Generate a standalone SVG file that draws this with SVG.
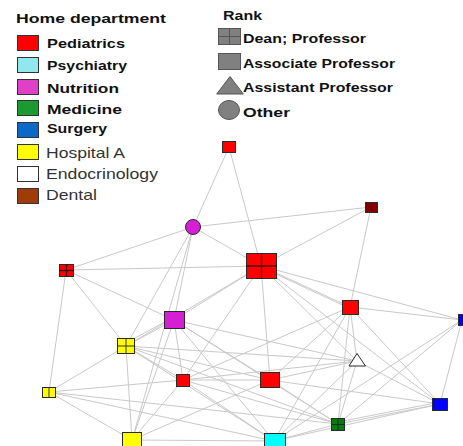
<svg xmlns="http://www.w3.org/2000/svg" width="463" height="446" viewBox="0 0 463 446">
<style>
.e{stroke:#c9c9c9;stroke-width:1;fill:none}
.n{stroke:#2a2a2a;stroke-width:1}
.g{stroke:#3a0000;stroke-width:1.3}
.hb{font-family:"Liberation Sans",Arial,sans-serif;font-weight:bold;font-size:13.5px;fill:#111}
.hr{font-family:"Liberation Sans",Arial,sans-serif;font-size:15px;fill:#333}
.sw{stroke:#333;stroke-width:1}
.rk{fill:#808080;stroke:#555;stroke-width:1}
</style>
<rect width="463" height="446" fill="#fff"/>
<g id="legend-department">
<text class="hb" x="16" y="23" textLength="150" lengthAdjust="spacingAndGlyphs">Home department</text>
<rect class="sw" x="17.5" y="35.5" width="21" height="15" fill="#ff0000"/>
<text class="hb" x="47" y="48" textLength="78" lengthAdjust="spacingAndGlyphs">Pediatrics</text>
<rect class="sw" x="17.5" y="57.5" width="21" height="15" fill="#90e8ee"/>
<text class="hb" x="47" y="70" textLength="80" lengthAdjust="spacingAndGlyphs">Psychiatry</text>
<rect class="sw" x="17.5" y="79.5" width="21" height="15" fill="#e040c8"/>
<text class="hb" x="47" y="92.5" textLength="72" lengthAdjust="spacingAndGlyphs">Nutrition</text>
<rect class="sw" x="17.5" y="100.5" width="21" height="15" fill="#1a9a30"/>
<text class="hb" x="47" y="114" textLength="75" lengthAdjust="spacingAndGlyphs">Medicine</text>
<rect class="sw" x="17.5" y="122.5" width="21" height="15" fill="#0a68c8"/>
<text class="hb" x="47" y="132.5" textLength="60" lengthAdjust="spacingAndGlyphs">Surgery</text>
<rect class="sw" x="17.5" y="144.5" width="21" height="15" fill="#ffff00"/>
<text class="hr" x="46" y="158" textLength="79" lengthAdjust="spacingAndGlyphs">Hospital A</text>
<rect class="sw" x="17.5" y="166.5" width="21" height="15" fill="#ffffff"/>
<text class="hr" x="46" y="178.5" textLength="112" lengthAdjust="spacingAndGlyphs">Endocrinology</text>
<rect class="sw" x="17.5" y="188.5" width="21" height="15" fill="#a03c08"/>
<text class="hr" x="46" y="200" textLength="51" lengthAdjust="spacingAndGlyphs">Dental</text>
</g>
<g id="legend-rank">
<text class="hb" x="223" y="20" textLength="39" lengthAdjust="spacingAndGlyphs">Rank</text>
<rect class="rk" x="218.5" y="28.5" width="22" height="16"/>
<line x1="229.5" y1="28.5" x2="229.5" y2="44.5" stroke="#555"/>
<line x1="218.5" y1="36.5" x2="240.5" y2="36.5" stroke="#555"/>
<text class="hb" x="243" y="43" textLength="123" lengthAdjust="spacingAndGlyphs">Dean; Professor</text>
<rect class="rk" x="218.5" y="53.5" width="22" height="16"/>
<text class="hb" x="243" y="68" textLength="152" lengthAdjust="spacingAndGlyphs">Associate Professor</text>
<polygon class="rk" points="216.7,94 230,76.5 243.3,94"/>
<text class="hb" x="243" y="92" textLength="150" lengthAdjust="spacingAndGlyphs">Assistant Professor</text>
<ellipse class="rk" cx="229" cy="110" rx="10.5" ry="9.5"/>
<text class="hb" x="243" y="117" textLength="47" lengthAdjust="spacingAndGlyphs">Other</text>
</g>
<g id="connectors" class="e">
<line x1="229" y1="147" x2="193" y2="227"/>
<line x1="229" y1="147" x2="261" y2="266"/>
<line x1="193" y1="227" x2="371" y2="207"/>
<line x1="193" y1="227" x2="66" y2="270"/>
<line x1="193" y1="227" x2="261" y2="266"/>
<line x1="193" y1="227" x2="174" y2="320"/>
<line x1="193" y1="227" x2="126" y2="346"/>
<line x1="193" y1="227" x2="132" y2="440"/>
<line x1="371" y1="207" x2="261" y2="266"/>
<line x1="371" y1="207" x2="350" y2="307"/>
<line x1="261" y1="266" x2="66" y2="270"/>
<line x1="261" y1="266" x2="174" y2="320"/>
<line x1="261" y1="266" x2="350" y2="307"/>
<line x1="263" y1="268" x2="351" y2="309"/>
<line x1="261" y1="266" x2="462" y2="320"/>
<line x1="261" y1="266" x2="357" y2="361"/>
<line x1="261" y1="266" x2="270" y2="380"/>
<line x1="261" y1="266" x2="183" y2="380"/>
<line x1="261" y1="266" x2="126" y2="346"/>
<line x1="261" y1="266" x2="440" y2="404"/>
<line x1="66" y1="270" x2="174" y2="320"/>
<line x1="66" y1="270" x2="126" y2="346"/>
<line x1="66" y1="270" x2="49" y2="392"/>
<line x1="174" y1="320" x2="126" y2="346"/>
<line x1="172" y1="318" x2="124" y2="344"/>
<line x1="174" y1="320" x2="183" y2="380"/>
<line x1="174" y1="320" x2="357" y2="361"/>
<line x1="174" y1="320" x2="132" y2="440"/>
<line x1="174" y1="320" x2="270" y2="380"/>
<line x1="174" y1="320" x2="338" y2="424"/>
<line x1="174" y1="320" x2="274" y2="441"/>
<line x1="350" y1="307" x2="462" y2="320"/>
<line x1="350" y1="307" x2="183" y2="380"/>
<line x1="350" y1="307" x2="270" y2="380"/>
<line x1="350" y1="307" x2="357" y2="361"/>
<line x1="350" y1="307" x2="440" y2="404"/>
<line x1="350" y1="307" x2="338" y2="424"/>
<line x1="350" y1="307" x2="274" y2="441"/>
<line x1="462" y1="320" x2="440" y2="404"/>
<line x1="462" y1="320" x2="338" y2="424"/>
<line x1="462" y1="320" x2="274" y2="441"/>
<line x1="126" y1="346" x2="49" y2="392"/>
<line x1="126" y1="346" x2="132" y2="440"/>
<line x1="126" y1="346" x2="183" y2="380"/>
<line x1="126" y1="346" x2="270" y2="380"/>
<line x1="126" y1="346" x2="357" y2="361"/>
<line x1="126" y1="346" x2="338" y2="424"/>
<line x1="126" y1="346" x2="274" y2="441"/>
<line x1="357" y1="361" x2="270" y2="380"/>
<line x1="357" y1="361" x2="440" y2="404"/>
<line x1="357" y1="361" x2="338" y2="424"/>
<line x1="357" y1="361" x2="183" y2="380"/>
<line x1="357" y1="361" x2="274" y2="441"/>
<line x1="183" y1="380" x2="270" y2="380"/>
<line x1="183" y1="380" x2="132" y2="440"/>
<line x1="183" y1="380" x2="274" y2="441"/>
<line x1="183" y1="380" x2="338" y2="424"/>
<line x1="270" y1="380" x2="440" y2="404"/>
<line x1="270" y1="380" x2="338" y2="424"/>
<line x1="270" y1="380" x2="132" y2="440"/>
<line x1="49" y1="392" x2="132" y2="440"/>
<line x1="49" y1="392" x2="183" y2="380"/>
<line x1="49" y1="392" x2="274" y2="441"/>
<line x1="49" y1="392" x2="338" y2="424"/>
<line x1="440" y1="404" x2="338" y2="424"/>
<line x1="440" y1="402" x2="338" y2="422"/>
<line x1="440" y1="404" x2="274" y2="441"/>
<line x1="338" y1="424" x2="274" y2="441"/>
<line x1="132" y1="440" x2="274" y2="441"/>
</g>
<g id="node-A"><rect class="n" x="222.5" y="141.5" width="13" height="11" fill="#ff0000"/></g>
<g id="node-B"><circle class="n" cx="193" cy="227" r="7.5" fill="#d41fd4"/></g>
<g id="node-C"><rect class="n" x="365.5" y="202.5" width="12" height="10" fill="#800000"/></g>
<g id="node-D"><rect class="n" x="246.5" y="253.5" width="30" height="25" fill="#ff0000"/><line class="g" x1="261.5" y1="253.5" x2="261.5" y2="278.5"/><line class="g" x1="246.5" y1="266" x2="276.5" y2="266"/></g>
<g id="node-E"><rect class="n" x="59.5" y="264.5" width="14" height="12" fill="#ff0000"/><line class="g" x1="66.5" y1="264.5" x2="66.5" y2="276.5"/><line class="g" x1="59.5" y1="270.5" x2="73.5" y2="270.5"/></g>
<g id="node-F"><rect class="n" x="164.5" y="311.5" width="20" height="17" fill="#d41fd4"/></g>
<g id="node-G"><rect class="n" x="342.5" y="300.5" width="16" height="14" fill="#ff0000"/></g>
<g id="node-H"><rect class="n" x="458.5" y="314.5" width="8" height="11" fill="#0000ff"/></g>
<g id="node-I"><rect class="n" x="117.5" y="338.5" width="17" height="15" fill="#ffff00"/><line x1="126" y1="338.5" x2="126" y2="353.5" stroke="#333"/><line x1="117.5" y1="346" x2="134.5" y2="346" stroke="#333"/></g>
<g id="node-J"><polygon class="n" points="357,353.5 349,366 365.5,366" fill="#ffffff" stroke="#000"/></g>
<g id="node-K"><rect class="n" x="176.5" y="374.5" width="13" height="12" fill="#ff0000"/></g>
<g id="node-L"><rect class="n" x="260.5" y="372.5" width="19" height="15" fill="#ff0000"/></g>
<g id="node-M"><rect class="n" x="42.5" y="387.5" width="13" height="10" fill="#ffff00"/><line x1="49" y1="387.5" x2="49" y2="397.5" stroke="#333"/></g>
<g id="node-N"><rect class="n" x="432.5" y="398.5" width="15" height="12" fill="#0000ff"/></g>
<g id="node-O"><rect class="n" x="331.5" y="418.5" width="13" height="12" fill="#0a7a0a"/><line x1="338" y1="418.5" x2="338" y2="430.5" stroke="#032"/><line x1="331.5" y1="424.5" x2="344.5" y2="424.5" stroke="#032"/></g>
<g id="node-P"><rect class="n" x="122.5" y="432.5" width="19" height="16" fill="#ffff00"/></g>
<g id="node-Q"><rect class="n" x="264.5" y="433.5" width="21" height="16" fill="#00ffff"/></g>
</svg>
